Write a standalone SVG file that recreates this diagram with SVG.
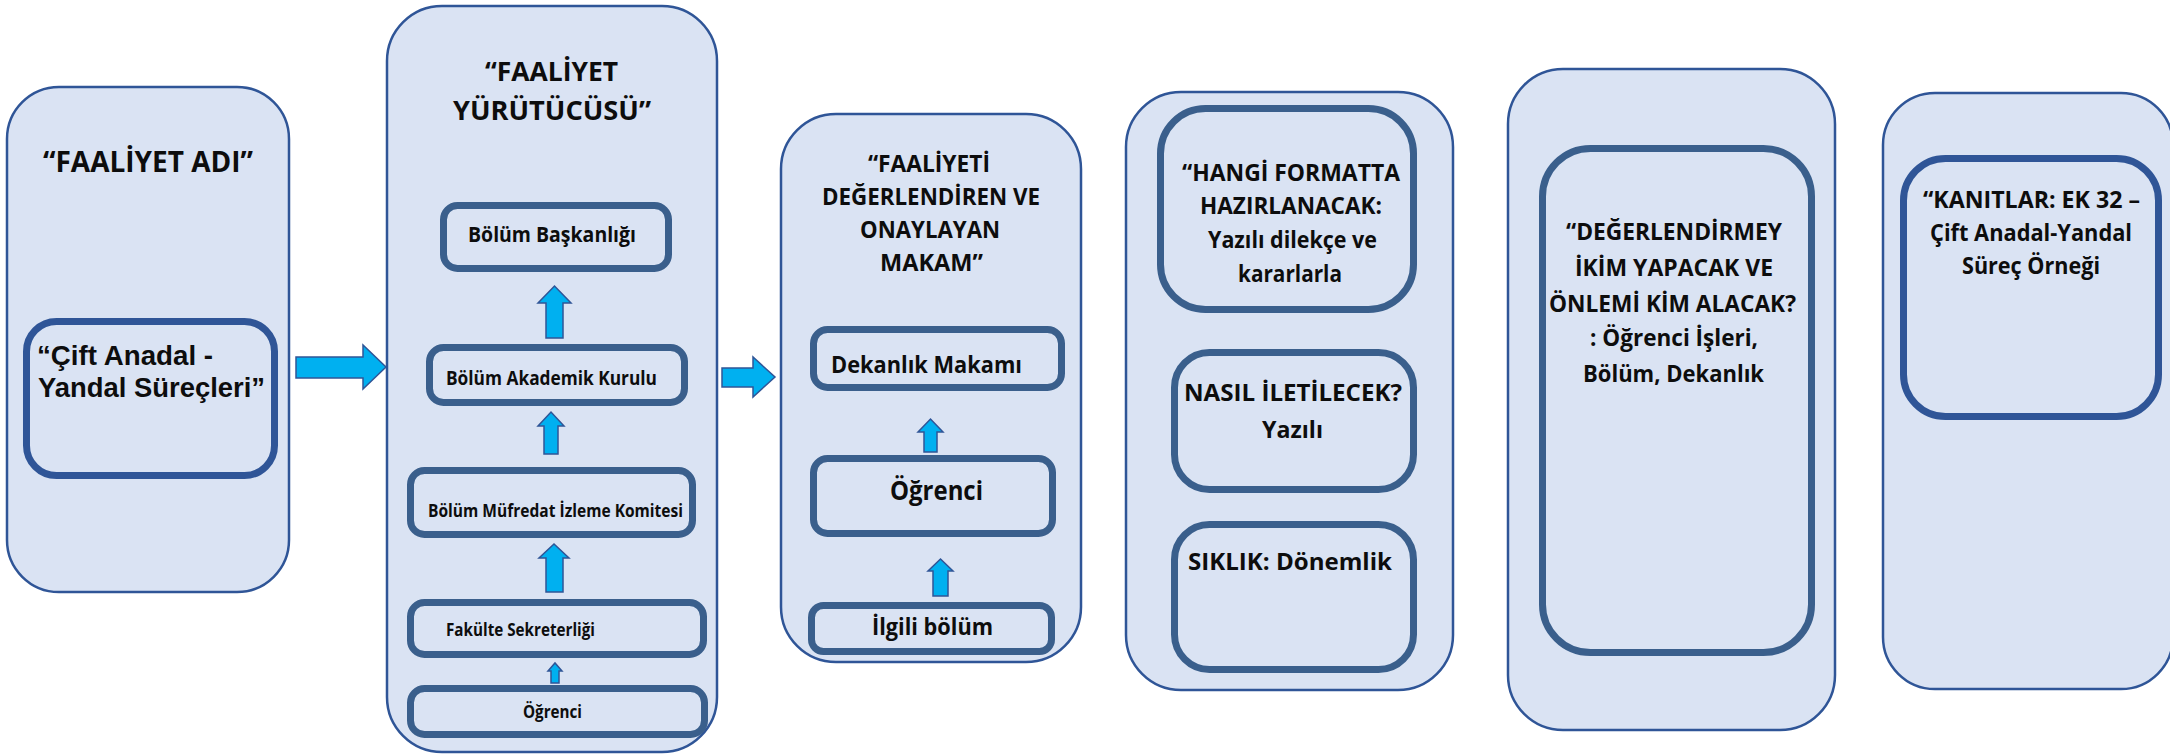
<svg xmlns="http://www.w3.org/2000/svg" width="2170" height="755" viewBox="0 0 2170 755">
<style>
.outer{fill:#dae3f3;stroke:#2f5597;stroke-width:2.5}
.in1{fill:#dae3f3;stroke:#2f5597;stroke-width:7}
.in2{fill:#dae3f3;stroke:#3a5f8c;stroke-width:7}
.arr{fill:#00b0f0;stroke:#2f5597;stroke-width:1.5;stroke-linejoin:miter}
text{font-family:"Open Sans","Liberation Sans",sans-serif;font-weight:700;fill:#0d0d0d}
text.ls{font-family:"Liberation Sans","Open Sans",sans-serif}
</style>
<rect width="2170" height="755" fill="#ffffff"/>
<g id="node-faaliyet-adi">
<rect class="outer" x="7" y="87" width="282" height="505" rx="52"/>
<text x="43" y="172" font-size="28" textLength="210" lengthAdjust="spacingAndGlyphs">“FAALİYET ADI”</text>
<rect class="in1" x="26.5" y="321.5" width="248" height="154" rx="30"/>
<text class="ls" x="37" y="365" font-size="28" textLength="176" lengthAdjust="spacingAndGlyphs">“Çift Anadal -</text>
<text class="ls" x="38" y="397" font-size="28" textLength="227" lengthAdjust="spacingAndGlyphs">Yandal Süreçleri”</text>
</g>
<g id="node-faaliyet-yurutucusu">
<rect class="outer" x="387" y="6" width="330" height="746" rx="55"/>
<text x="485" y="81" font-size="27" textLength="133" lengthAdjust="spacingAndGlyphs">“FAALİYET</text>
<text x="453" y="120" font-size="27" textLength="198" lengthAdjust="spacingAndGlyphs">YÜRÜTÜCÜSÜ”</text>
<g id="node-bolum-baskanligi">
<rect class="in2" x="443.5" y="205.5" width="225" height="63" rx="14"/>
<text x="468" y="242" font-size="21" textLength="168" lengthAdjust="spacingAndGlyphs">Bölüm Başkanlığı</text>
</g>
<g id="node-bolum-akademik-kurulu">
<rect class="in2" x="429.5" y="347.5" width="255" height="55" rx="14"/>
<text x="446" y="385" font-size="20" textLength="211" lengthAdjust="spacingAndGlyphs">Bölüm Akademik Kurulu</text>
</g>
<g id="node-mufredat">
<rect class="in2" x="410.5" y="470.5" width="282" height="64" rx="14"/>
<text x="428" y="517" font-size="17" textLength="255" lengthAdjust="spacingAndGlyphs">Bölüm Müfredat İzleme Komitesi</text>
</g>
<g id="node-fakulte-sekreterligi">
<rect class="in2" x="410.5" y="602.5" width="293" height="52" rx="14"/>
<text x="446" y="636" font-size="17" textLength="149" lengthAdjust="spacingAndGlyphs">Fakülte Sekreterliği</text>
</g>
<g id="node-ogrenci-1">
<rect class="in2" x="410.5" y="688.5" width="294" height="46" rx="14"/>
<text x="523" y="718" font-size="17" textLength="59" lengthAdjust="spacingAndGlyphs">Öğrenci</text>
</g>
</g>
<g id="node-degerlendiren">
<rect class="outer" x="781" y="114" width="300" height="548" rx="55"/>
<text x="868" y="172" font-size="24" textLength="122" lengthAdjust="spacingAndGlyphs">“FAALİYETİ</text>
<text x="822" y="205" font-size="24" textLength="218" lengthAdjust="spacingAndGlyphs">DEĞERLENDİREN VE</text>
<text x="860" y="238" font-size="24" textLength="140" lengthAdjust="spacingAndGlyphs">ONAYLAYAN</text>
<text x="880" y="271" font-size="24" textLength="103" lengthAdjust="spacingAndGlyphs">MAKAM”</text>
<g id="node-dekanlik-makami">
<rect class="in2" x="813.5" y="329.5" width="248" height="58" rx="14"/>
<text x="831" y="373" font-size="24" textLength="191" lengthAdjust="spacingAndGlyphs">Dekanlık Makamı</text>
</g>
<g id="node-ogrenci-2">
<rect class="in2" x="813.5" y="458.5" width="239" height="75" rx="14"/>
<text x="890" y="500" font-size="27" textLength="93" lengthAdjust="spacingAndGlyphs">Öğrenci</text>
</g>
<g id="node-ilgili-bolum">
<rect class="in2" x="811.5" y="605.5" width="240" height="46" rx="12"/>
<text x="872" y="635" font-size="24" textLength="121" lengthAdjust="spacingAndGlyphs">İlgili bölüm</text>
</g>
</g>
<g id="node-format">
<rect class="outer" x="1126" y="92" width="327" height="598" rx="55"/>
<g id="node-hangi-formatta">
<rect class="in2" x="1160.5" y="108.5" width="253" height="201" rx="45"/>
<text x="1182" y="181" font-size="23" textLength="218" lengthAdjust="spacingAndGlyphs">“HANGİ FORMATTA</text>
<text x="1200" y="214" font-size="23" textLength="182" lengthAdjust="spacingAndGlyphs">HAZIRLANACAK:</text>
<text x="1208" y="248" font-size="23" textLength="169" lengthAdjust="spacingAndGlyphs">Yazılı dilekçe ve</text>
<text x="1238" y="282" font-size="23" textLength="104" lengthAdjust="spacingAndGlyphs">kararlarla</text>
</g>
<g id="node-nasil-iletilecek">
<rect class="in2" x="1174.5" y="352.5" width="239" height="137" rx="35"/>
<text x="1184" y="401" font-size="23" textLength="218" lengthAdjust="spacingAndGlyphs">NASIL İLETİLECEK?</text>
<text x="1262" y="438" font-size="23" textLength="61" lengthAdjust="spacingAndGlyphs">Yazılı</text>
</g>
<g id="node-siklik">
<rect class="in2" x="1174.5" y="524.5" width="239" height="145" rx="35"/>
<text x="1188" y="570" font-size="23" textLength="204" lengthAdjust="spacingAndGlyphs">SIKLIK: Dönemlik</text>
</g>
</g>
<g id="node-degerlendirme">
<rect class="outer" x="1508" y="69" width="327" height="661" rx="55"/>
<rect class="in2" x="1542.5" y="148.5" width="269" height="504" rx="48"/>
<text x="1566" y="240" font-size="23" textLength="216" lengthAdjust="spacingAndGlyphs">“DEĞERLENDİRMEY</text>
<text x="1575" y="276" font-size="23" textLength="198" lengthAdjust="spacingAndGlyphs">İKİM YAPACAK VE</text>
<text x="1549" y="312" font-size="23" textLength="247" lengthAdjust="spacingAndGlyphs">ÖNLEMİ KİM ALACAK?</text>
<text x="1590" y="346" font-size="23" textLength="168" lengthAdjust="spacingAndGlyphs">: Öğrenci İşleri,</text>
<text x="1583" y="382" font-size="23" textLength="181" lengthAdjust="spacingAndGlyphs">Bölüm, Dekanlık</text>
</g>
<g id="node-kanitlar">
<rect class="outer" x="1883" y="93" width="290" height="596" rx="52"/>
<rect class="in1" x="1903.5" y="158.5" width="255" height="258" rx="42"/>
<text x="1923" y="208" font-size="23" textLength="217" lengthAdjust="spacingAndGlyphs">“KANITLAR: EK 32 –</text>
<text x="1930" y="241" font-size="23" textLength="202" lengthAdjust="spacingAndGlyphs">Çift Anadal-Yandal</text>
<text x="1962" y="274" font-size="23" textLength="138" lengthAdjust="spacingAndGlyphs">Süreç Örneği</text>
</g>
<g id="connectors">
<path class="arr" d="M296,357 H363 V345 L386,367 L363,389 V378 H296 Z"/>
<path class="arr" d="M722,368 H753 V357 L775,377 L753,397 V387 H722 Z"/>
<path class="arr" d="M546,338 V303 H538 L554.5,286 L571,303 H563 V338 Z"/>
<path class="arr" d="M544,454 V426 H538 L551,412 L564,426 H558 V454 Z"/>
<path class="arr" d="M546,592 V558 H539 L554,544 L569,558 H563 V592 Z"/>
<path class="arr" d="M551,683 V671 H548 L555,663 L562,671 H559 V683 Z"/>
<path class="arr" d="M924,452 V432 H918 L930.5,419 L943,432 H937 V452 Z"/>
<path class="arr" d="M933,596 V571 H928 L940.5,559 L953,571 H948 V596 Z"/>
</g>
</svg>
